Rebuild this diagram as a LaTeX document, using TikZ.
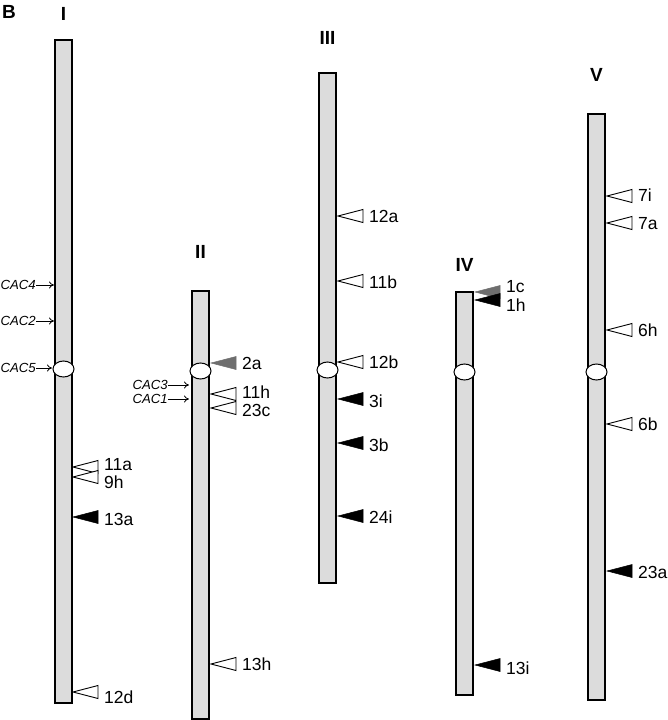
\documentclass[tikz,border=0pt]{standalone}
\usepackage{fontspec}
\setmainfont{Liberation Sans}
\usetikzlibrary{arrows.meta,shapes.geometric}
\definecolor{chr}{HTML}{DCDCDC}
\definecolor{mid}{HTML}{6E6E6E}

\tikzset{
  chrom/.style={draw=black,line width=1.1pt,fill=chr},
  cen/.style={ellipse,draw=black,line width=1pt,fill=white,minimum width=21pt,minimum height=16pt,inner sep=0pt},
  openband/.style={draw=black,line width=0.9pt,fill=white},
  darkband/.style={draw=black,line width=0.5pt,fill=black},
  greyband/.style={draw=mid,line width=0.5pt,fill=mid},
  lbl/.style={font=\fontsize{17.5}{17.5}\selectfont,inner sep=0pt,anchor=west},
  cac/.style={font=\fontsize{13.2}{13.2}\selectfont\itshape,inner sep=0pt,anchor=east},
  chrname/.style={font=\fontsize{19}{19}\selectfont\bfseries,inner sep=0pt},
  cacarrow/.style={-{To[length=5pt,width=7pt]},line width=0.8pt},
}

\begin{document}
\begin{tikzpicture}[x=1pt,y=-1pt]
  \useasboundingbox (0,0) rectangle (667,720);
  \node[chrname] (panel) at (9,12) {B};

  % chromosomes
  \foreach \n/\x/\top/\bot/\cy/\ny in {I/55/40/703/369/14, II/192/291/719/371/252,
      III/319/73/583/370/38, IV/456/292/695/372/265, V/588/114/700/372/75} {
    \draw[chrom] (\x,\top) rectangle (\x+17,\bot);
    \node[cen] (cen\n) at (\x+8.5,\cy) {};
    \node[chrname] (name\n) at (\x+8.5,\ny) {\n};
  }

  % bands
  \foreach \x/\y/\s/\t/\ly in {73/467/openband/11a/465, 73/477/openband/9h/482,
      73/517/darkband/13a/519, 73/692/openband/12d/697,
      211/363/greyband/2a/363, 211/394/openband/11h/392, 211/408/openband/23c/410,
      211/664/openband/13h/664,
      338/216/openband/12a/216, 338/281/openband/11b/282, 338/362/openband/12b/362,
      338/399/darkband/3i/401, 338/443/darkband/3b/445, 338/516/darkband/24i/517,
      475/292/greyband/1c/287, 475/300/darkband/1h/305, 475/665/darkband/13i/668,
      607/196/openband/7i/195, 607/223/openband/7a/224, 607/330/openband/6h/330,
      607/424/openband/6b/424, 607/571/darkband/23a/572} {
    \draw[\s] (\x,\y) -- ++(25,-6.5) -- ++(0,13) -- cycle;
    \node[lbl] (b\t) at (\x+31,\ly) {\t};
  }

  % CAC insertions
  \foreach \t/\x/\y/\e in {4/36/285/54, 2/36/321/54, 5/36/368/52, 3/168/385/189, 1/168/399/189} {
    \node[cac] (cac\t) at (\x,\y) {CAC\t};
    \coordinate (cacend\t) at (\e,\y);
    \draw[cacarrow] (cac\t.east) -- (cacend\t);
  }
\end{tikzpicture}
\end{document}
